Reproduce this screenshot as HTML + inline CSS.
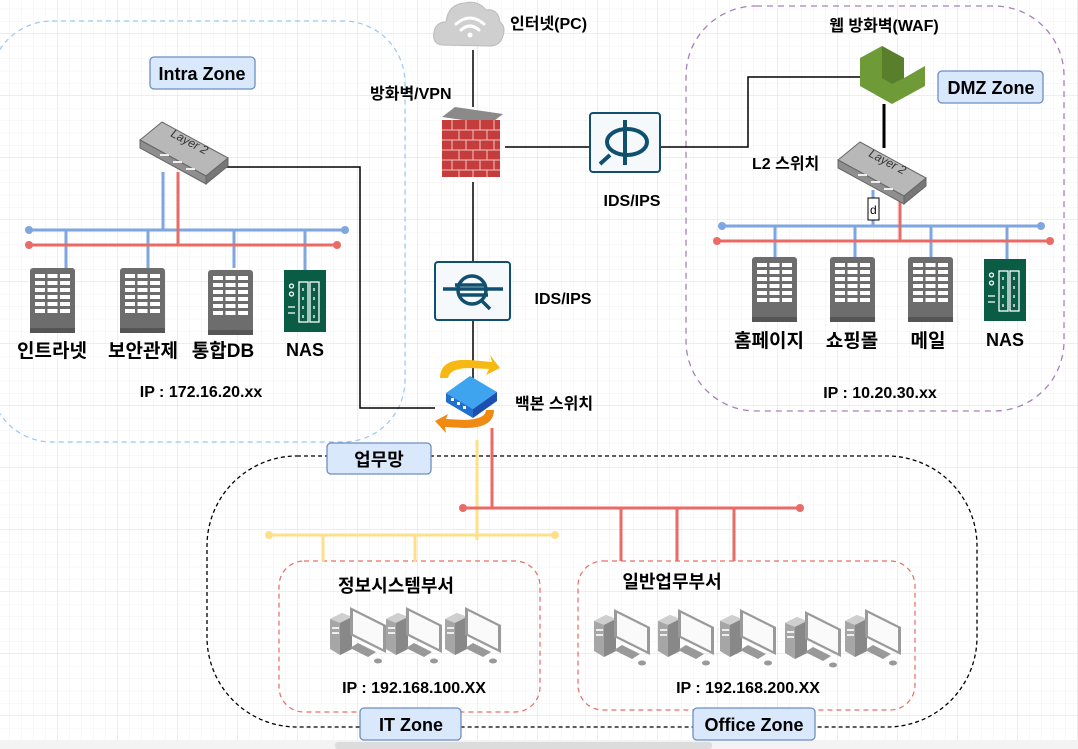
<!DOCTYPE html>
<html><head><meta charset="utf-8"><style>
html,body{margin:0;padding:0;background:#fff;}
svg{display:block;}
text{font-family:"Liberation Sans","Noto Sans CJK KR",sans-serif;font-weight:bold;fill:#000;}
</style></head><body>
<svg width="1078" height="749" viewBox="0 0 1078 749" xmlns="http://www.w3.org/2000/svg">
<defs>
<pattern id="minor" x="-2" y="34" width="12" height="12.4" patternUnits="userSpaceOnUse">
<path d="M12 0V12.4M0 12.4H12" stroke="#f1f1f1" stroke-width="1" fill="none"/></pattern>
<pattern id="major" x="-2" y="34" width="60" height="62" patternUnits="userSpaceOnUse">
<path d="M60 0V62M0 62H60" stroke="#dcdcdc" stroke-width="1" fill="none"/></pattern>
<g id="server">
<rect x="0" y="0" width="45" height="65" rx="3" fill="#6d6d6d"/>
<rect x="0" y="60" width="45" height="5" fill="#555"/>
<g fill="#fff">
<rect x="5" y="6" width="10" height="4"/><rect x="17.5" y="6" width="10" height="4"/><rect x="30" y="6" width="10" height="4"/>
<rect x="5" y="13" width="10" height="4"/><rect x="17.5" y="13" width="10" height="4"/><rect x="30" y="13" width="10" height="4"/>
<rect x="5" y="20" width="10" height="4"/><rect x="17.5" y="20" width="10" height="4"/><rect x="30" y="20" width="10" height="4"/>
<rect x="5" y="27" width="10" height="4"/><rect x="17.5" y="27" width="10" height="4"/><rect x="30" y="27" width="10" height="4"/>
<rect x="5" y="34" width="10" height="4"/><rect x="17.5" y="34" width="10" height="4"/><rect x="30" y="34" width="10" height="4"/>
<rect x="5" y="41" width="10" height="4"/><rect x="17.5" y="41" width="10" height="4"/><rect x="30" y="41" width="10" height="4"/>
</g></g>
<g id="nas">
<rect x="0" y="0" width="42" height="62" fill="#0a5c45"/>
<g stroke="#fff" stroke-width="1.3" fill="none">
<rect x="15" y="12" width="9" height="40"/><rect x="26" y="12" width="9" height="40"/>
<circle cx="7.5" cy="16" r="2"/><circle cx="7.5" cy="24" r="2"/>
<path d="M4 37h7M4 43h7M19 18v3M19 27v3M19 36v3M19 45v3M30 18v3M30 27v3M30 36v3M30 45v3"/></g></g>
<g id="l2">
<polygon points="0,18 22,0 88,36 66,54" fill="#b8b8b8" stroke="#666" stroke-width="1"/>
<polygon points="0,18 66,54 66,62 0,26" fill="#8f8f8f" stroke="#666" stroke-width="1"/>
<polygon points="66,54 88,36 88,44 66,62" fill="#777" stroke="#666" stroke-width="1"/>
<g fill="#eee"><rect x="20" y="32" width="9" height="2"/><rect x="33" y="39" width="9" height="2"/><rect x="46" y="46" width="9" height="2"/></g>
<text x="0" y="0" transform="translate(30,14) rotate(28)" style="font-size:12px;font-weight:normal;font-style:italic;fill:#333">Layer 2</text>
</g>
<g id="pc">
<polygon points="2,12 14,6 24,10 24,42 12,48 2,42" fill="#a6a6a6"/>
<polygon points="2,12 14,6 24,10 12,16" fill="#cfcfcf"/>
<polygon points="12,16 24,10 24,42 12,48" fill="#888"/>
<rect x="4" y="20" width="7" height="2" fill="#eee"/><rect x="4" y="25" width="7" height="2" fill="#eee"/>
<polygon points="22,0 58,18 58,46 22,28" fill="#9a9a9a"/>
<polygon points="25,4 55,19 55,42 25,27" fill="#fafafa"/>
<polygon points="30,36 48,45 40,50 22,41" fill="#999"/>
<ellipse cx="50" cy="54" rx="4" ry="2.5" fill="#999"/>
</g>
</defs>
<rect width="1078" height="749" fill="#fff"/>
<rect width="1078" height="740" fill="url(#minor)"/>
<rect width="1078" height="740" fill="url(#major)"/>
<rect x="0" y="740" width="1078" height="9" fill="#f3f3f3"/>
<rect x="335" y="742" width="377" height="7" rx="3" fill="#dcdcdc"/>

<rect x="-10" y="21" width="415" height="421" rx="62" fill="none" stroke="#99c8f5" stroke-width="1.2" stroke-dasharray="5,4"/>
<rect x="686" y="6" width="378" height="405" rx="70" fill="none" stroke="#a680b8" stroke-width="1.3" stroke-dasharray="6,5"/>
<rect x="207" y="456" width="770" height="271" rx="90" fill="none" stroke="#000" stroke-width="1.3" stroke-dasharray="4,3"/>
<rect x="279" y="561" width="261" height="151" rx="25" fill="none" stroke="#ea6b66" stroke-width="1.2" stroke-dasharray="5,4"/>
<rect x="578" y="561" width="337" height="149" rx="25" fill="none" stroke="#ea6b66" stroke-width="1.2" stroke-dasharray="5,4"/>

<g stroke="#000" stroke-width="1.5" fill="none">
<path d="M223 167H360V408H435"/>
<path d="M473 50V107M473 182V262M473 320V383"/>
<path d="M505 147H590"/>
<path d="M661 147H748V77H868"/>
<path d="M884 104V148" stroke-width="3"/>
</g>

<g stroke-width="3" fill="none">
<path d="M163 172V230M29 230H345M66 230V268M148 230V268M234 230V268M305 230V270" stroke="#7ea6e0"/>
<path d="M178 172V245M29 245H337" stroke="#ea6b66"/>
</g>
<circle cx="29" cy="230" r="4" fill="#7ea6e0"/><circle cx="345" cy="230" r="4" fill="#7ea6e0"/>
<circle cx="29" cy="245" r="4" fill="#ea6b66"/><circle cx="337" cy="245" r="4" fill="#ea6b66"/>

<g stroke-width="3" fill="none">
<path d="M873 190V226M722 226H1041M775 226V265M855 226V265M931 226V265M1007 226V265" stroke="#7ea6e0"/>
<path d="M900 197V241M717 241H1050" stroke="#ea6b66"/>
</g>
<circle cx="722" cy="226" r="4" fill="#7ea6e0"/><circle cx="1041" cy="226" r="4" fill="#7ea6e0"/>
<circle cx="717" cy="241" r="4" fill="#ea6b66"/><circle cx="1050" cy="241" r="4" fill="#ea6b66"/>
<rect x="868" y="198" width="11" height="22" fill="#fff" stroke="#000" stroke-width="1"/>
<text x="870" y="214" style="font-size:12px;font-weight:normal">d</text>

<g stroke-width="3" fill="none">
<path d="M477 440V540M269 535H555M323 535V562M415 535V562" stroke="#ffe08a"/>
<path d="M492 428V508M463 508H800M621 508V561M677 508V561M734 508V561" stroke="#ea6b66"/>
</g>
<circle cx="269" cy="535" r="4" fill="#ffe08a"/><circle cx="555" cy="535" r="4" fill="#ffe08a"/>
<circle cx="463" cy="508" r="4" fill="#ea6b66"/><circle cx="800" cy="508" r="4" fill="#ea6b66"/>

<use href="#server" x="30" y="268"/><use href="#server" x="120" y="268"/><use href="#server" x="208" y="270"/>
<use href="#nas" x="284" y="270"/>
<use href="#server" x="752" y="257"/><use href="#server" x="830" y="257"/><use href="#server" x="908" y="257"/>
<use href="#nas" x="984" y="259"/>

<use href="#l2" x="140" y="122"/>
<use href="#l2" x="838" y="142"/>

<path d="M442 45 Q432 44 434 32 Q436 22 446 22 Q448 4 465 3 Q478 0 486 10 Q498 8 500 22 Q506 26 503 36 Q500 46 490 46 Z" fill="#cfcfcf" stroke="#bbb"/>
<g stroke="#fff" stroke-width="3" fill="none" stroke-linecap="round">
<path d="M456 24 Q470 12 484 24"/><path d="M461 30 Q470 22 479 30"/></g>
<circle cx="470" cy="35" r="2.5" fill="#fff"/>

<polygon points="442,117 455,107 503,114 490,124" fill="#8a8a8a"/>
<rect x="442" y="120" width="58" height="57" fill="#c43c3c"/>
<g stroke="#f4c2c2" stroke-width="1" fill="none">
<path d="M442 130H500M442 140H500M442 150H500M442 160H500M442 170H500"/>
<path d="M452 120V130M466 120V130M480 120V130M494 120V130M459 130V140M473 130V140M487 130V140M452 140V150M466 140V150M480 140V150M494 140V150M459 150V160M473 150V160M487 150V160M452 160V170M466 160V170M480 160V170M494 160V170M459 170V177M473 170V177M487 170V177"/></g>

<rect x="590" y="113" width="70" height="59" rx="3" fill="#f5f9fb" stroke="#10506e" stroke-width="2"/>
<g stroke="#10506e" stroke-width="4" fill="none"><ellipse cx="627" cy="142" rx="20" ry="13"/><path d="M625 120V165"/><path d="M610 155L600 164"/></g>
<rect x="435" y="262" width="75" height="58" rx="3" fill="#f5f9fb" stroke="#10506e" stroke-width="2"/>
<g stroke="#10506e" stroke-width="3.5" fill="none"><circle cx="472" cy="290" r="14"/><path d="M482 301L490 309M443 289H503M455 285H485M458 295H488"/></g>

<polygon points="860,58 882,46 904,58 904,78 925,66 925,86 892,104 860,86" fill="#6f9a38"/>
<polygon points="882,46 904,58 904,78 892,84 882,78" fill="#5a7f2c"/>

<path d="M440 378 Q440 358 470 360 L492 362 L490 355 L500 368 L486 375 L489 369 L470 368 Q450 368 448 378Z" fill="#f6b914"/>
<path d="M494 410 Q494 428 465 428 L445 427 L446 433 L435 421 L448 414 L446 419 L465 420 Q486 419 486 410Z" fill="#f08a12"/>
<polygon points="446,393 470,376 497,392 473,409" fill="#3ea4ef"/>
<polygon points="446,393 473,409 473,418 446,402" fill="#1e6fd0"/>
<polygon points="473,409 497,392 497,401 473,418" fill="#1b4fb0"/>
<g fill="#fff"><rect x="451" y="398" width="3" height="3"/><rect x="457" y="402" width="3" height="3"/><rect x="463" y="406" width="3" height="3"/></g>

<use href="#pc" x="328" y="607"/><use href="#pc" x="384" y="607"/><use href="#pc" x="443" y="607"/>
<use href="#pc" x="592" y="609"/><use href="#pc" x="656" y="609"/><use href="#pc" x="718" y="609"/><use href="#pc" x="783" y="611"/><use href="#pc" x="843" y="609"/>

<g fill="#dae8fc" stroke="#6c8ebf" stroke-width="1.3">
<rect x="150" y="57" width="105" height="32" rx="4"/>
<rect x="938" y="71" width="105" height="32" rx="4"/>
<rect x="327" y="443" width="104" height="31" rx="4"/>
<rect x="360" y="708" width="101" height="32" rx="4"/>
<rect x="693" y="708" width="122" height="32" rx="4"/>
</g>
<g text-anchor="middle">
<text x="202" y="80" style="font-size:18px">Intra Zone</text>
<text x="991" y="94" style="font-size:18px">DMZ Zone</text>
<text x="379" y="466" style="font-size:18px">업무망</text>
<text x="411" y="731" style="font-size:18px">IT Zone</text>
<text x="754" y="731" style="font-size:18px">Office Zone</text>

<text x="52" y="357" style="font-size:19px">인트라넷</text>
<text x="143" y="357" style="font-size:19px">보안관제</text>
<text x="223" y="357" style="font-size:19px">통합DB</text>
<text x="305" y="356" style="font-size:18px">NAS</text>
<text x="201" y="397" style="font-size:16px">IP : 172.16.20.xx</text>

<text x="769" y="347" style="font-size:19px">홈페이지</text>
<text x="852" y="347" style="font-size:19px">쇼핑몰</text>
<text x="928" y="347" style="font-size:19px">메일</text>
<text x="1005" y="346" style="font-size:18px">NAS</text>
<text x="880" y="398" style="font-size:16px">IP : 10.20.30.xx</text>

<text x="884" y="31" style="font-size:16px">웹 방화벽(WAF)</text>
<text x="632" y="206" style="font-size:16px">IDS/IPS</text>
<text x="563" y="304" style="font-size:16px">IDS/IPS</text>
<text x="396" y="592" style="font-size:18px">정보시스템부서</text>
<text x="672" y="588" style="font-size:18px">일반업무부서</text>
<text x="414" y="693" style="font-size:16px">IP : 192.168.100.XX</text>
<text x="748" y="693" style="font-size:16px">IP : 192.168.200.XX</text>
</g>
<text x="510" y="29" style="font-size:16px">인터넷(PC)</text>
<text x="370" y="99" style="font-size:16px">방화벽/VPN</text>
<text x="752" y="169" style="font-size:16px">L2 스위치</text>
<text x="515" y="409" style="font-size:16px">백본 스위치</text>
</svg>
</body></html>
